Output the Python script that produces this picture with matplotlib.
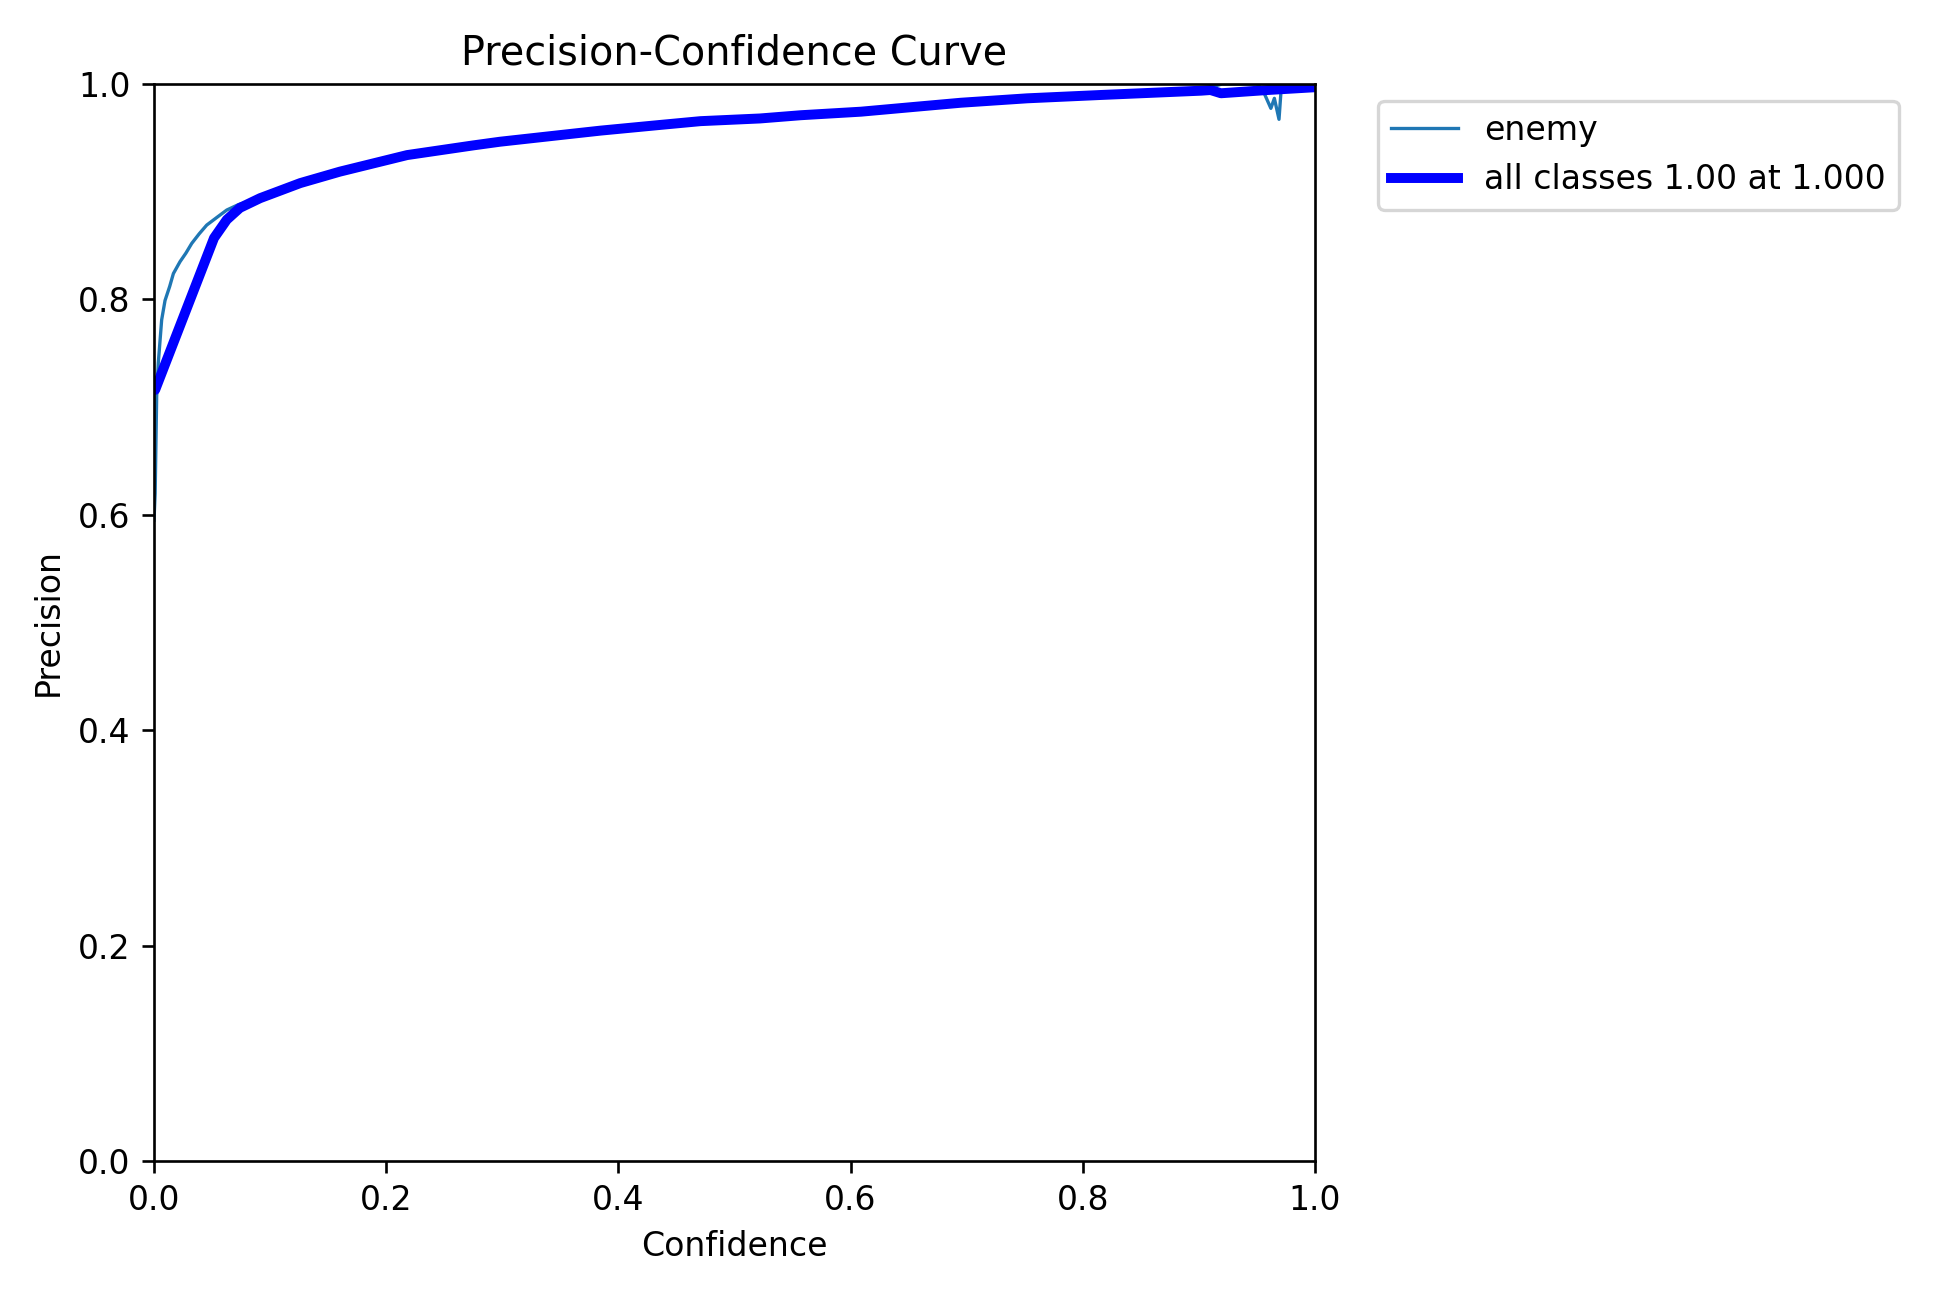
import numpy as np
import matplotlib
matplotlib.use("Agg")
import matplotlib.pyplot as plt

# per-class curve
conf_enemy = [0.0, 0.001, 0.0023, 0.0037, 0.0066, 0.0095, 0.0135, 0.0167, 0.0224, 0.0275,
              0.0325, 0.039, 0.0454, 0.054, 0.0627, 0.0727, 0.0914, 0.126, 0.160, 0.218,
              0.275, 0.298, 0.350, 0.3845, 0.436, 0.4707, 0.522, 0.557, 0.609, 0.6575,
              0.695, 0.752, 0.8155, 0.902, 0.91, 0.92, 0.95, 0.955, 0.962, 0.965,
              0.969, 0.9707, 0.975, 1.0]
prec_enemy = [0.595, 0.62, 0.710, 0.741, 0.781, 0.799, 0.812, 0.824, 0.835, 0.843,
              0.852, 0.861, 0.869, 0.876, 0.883, 0.888, 0.894, 0.908, 0.9186, 0.934,
              0.943, 0.9464, 0.9526, 0.9567, 0.962, 0.9655, 0.968, 0.971, 0.9743, 0.979,
              0.9826, 0.9867, 0.9898, 0.9938, 0.997, 1.0, 1.0, 0.9944, 0.9774, 0.9867,
              0.9672, 0.9929, 1.0, 1.0]

# all classes (smoothed) curve
conf_all = [0.0, 0.001, 0.0517, 0.0627, 0.074, 0.0914, 0.126, 0.160, 0.218, 0.275,
            0.298, 0.350, 0.3845, 0.436, 0.4707, 0.522, 0.557, 0.609, 0.6575, 0.695,
            0.752, 0.8155, 0.902, 0.910, 0.919, 0.959, 1.0]
prec_all = [0.716, 0.716, 0.857, 0.874, 0.885, 0.894, 0.908, 0.9186, 0.934, 0.943,
            0.9464, 0.9526, 0.9567, 0.962, 0.9655, 0.968, 0.971, 0.9743, 0.979, 0.9826,
            0.9867, 0.9898, 0.9938, 0.9944, 0.9914, 0.9944, 0.997]

class_name = "enemy"
best_prec = 1.00
best_conf = 1.000

dpi = 238.5
fig, ax = plt.subplots(1, 1, figsize=(1946 / dpi, 1297 / dpi))
fig.subplots_adjust(left=154 / 1946, right=1315 / 1946, top=1 - 84 / 1297, bottom=1 - 1161 / 1297)
ax.plot(conf_enemy, prec_enemy, linewidth=1, label=class_name)
ax.plot(conf_all, prec_all, linewidth=3, color="blue",
        label=f"all classes {best_prec:.2f} at {best_conf:.3f}")
ax.set_xlabel("Confidence")
ax.set_ylabel("Precision")
ax.set_xlim(0, 1)
ax.set_ylim(0, 1)
ax.legend(bbox_to_anchor=(1.04, 1), loc="upper left")
ax.set_title("Precision-Confidence Curve")
fig.savefig("out.png", dpi=dpi)
